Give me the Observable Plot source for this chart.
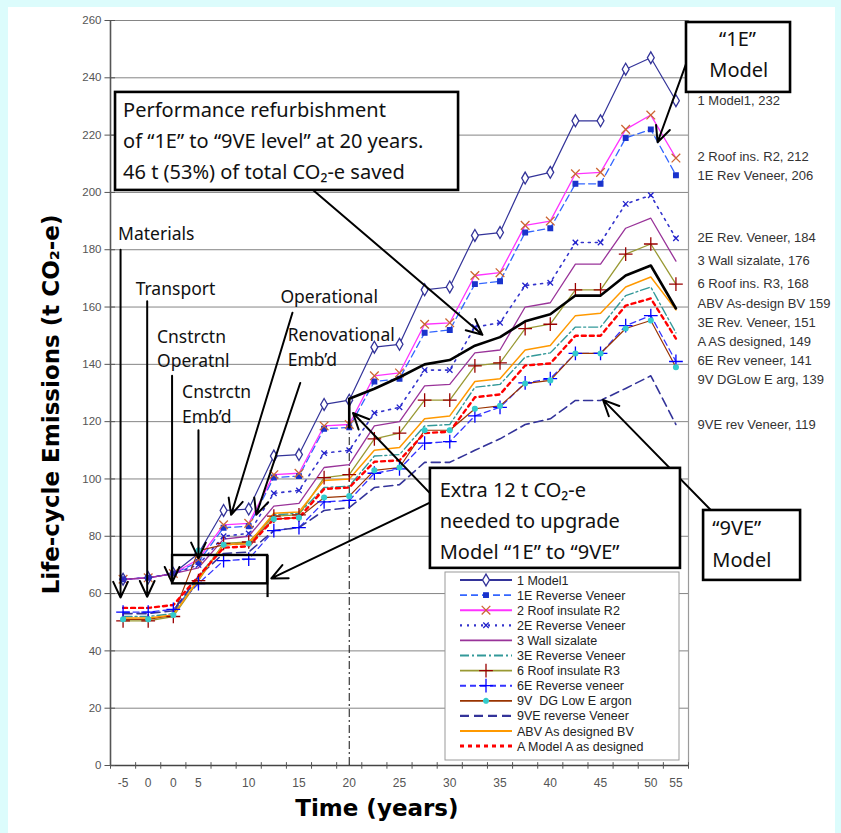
<!DOCTYPE html>
<html><head><meta charset="utf-8">
<script src="https://cdn.jsdelivr.net/npm/d3@7"></script>
<script src="https://cdn.jsdelivr.net/npm/@observablehq/plot@0.6"></script>
<style>
html,body{margin:0;padding:0;background:#dcfcfc;width:841px;height:833px;overflow:hidden;}
#panel{position:absolute;left:8px;top:7px;width:827px;height:826px;background:#fff;}
#chart{position:absolute;left:0;top:0;}
</style></head><body><div id="panel"></div><div id="chart"></div>
<script>
// ---- category axis (one category every 2.5 years after year 5) ----
const cats = ["-5","0","0","5","","10","","15","","20","","25","","30","","35","","40","","45","","50","55"];
const yTicks = [0,20,40,60,80,100,120,140,160,180,200,220,240,260];

// ---- series values (t CO2-e) ----
const model1 = [65,65.5,67,74,89,89.5,108,108.5,126,127.5,146,147,166,167,185,186,205,207,225,225,243,247,232];
const rev1E  = [65,65.5,67,71,83,83.5,100.5,101,117.5,118,134,135,151,152,168,169,186,187.5,203,203,219,222,206];
const roofR2 = [65,65.5,67,72,84,84.5,101.5,102,118.5,119,136,137,154,154.5,171,172,188.5,190,206.5,207,222,227,212];
const rev2E  = [65,65.5,67,70,80,81,95,96,109,110,123,125,138,138,153,154.5,167.5,168.5,182.5,182.5,196,199,184];
const wall3  = [65,65.5,67,69,79,80,90.5,91.5,104,105,118.5,120,132.5,133,144,145,160,161.5,175,175,187.5,191,176];
const rev3E  = [52,52,53,66,77,77.5,87.5,88,97,97.5,108,108.5,118.5,119,132,133,142.5,144,153,153,164,167,151];
const roofR3 = [50.5,50.5,52,64.5,77.5,78,87,87.5,100.5,101.5,114,116,127.5,127.5,139.5,140.5,152.5,154,166,166,178.5,182,168];
const rev6E  = [53.5,53.5,54.5,63.5,71.5,72,82,83,92,92.5,102,103.5,112.5,113,122,125,133.5,135,143.8,143.8,153.5,157,141];
const dg9V   = [51,51,52.5,75,77,77.5,86,86.5,93.5,94,103,104,117,117,124.5,125.5,133.3,134.4,143.8,143.8,152.5,155.3,139];
const rev9VE = [53,53,54,66,74,74.5,82,83,89,90,97,98,105.8,105.8,110,114,119,121,127.4,127.4,131.6,136,119];
const abvBV  = [51.5,51.5,52.5,65,77,77.5,88,88.5,99.5,100,110,111,121,122,134,135,145,146.6,157,157.8,167,170.5,159];
const modelA = [55,55,56,66,76,76.5,86,86.5,96.5,97,106,106.5,116,116.5,128.5,129.5,139.6,140.3,150,150,160.5,163,149];
// refurbished path "1E" -> "9VE" from year 20
const refurbIdx  = [9,9,10,11,12,13,14,15,16,17,18,19,20,21,22];
const refurbVals = [118,128,131.5,135.5,140,141.5,146.5,149.5,155,157.5,164,164,171,174.5,159.5];

const legendNames = ["1 Model1","1E Reverse Veneer","2 Roof insulate R2","2E Reverse Veneer","3 Wall sizalate","3E Reverse Veneer","6 Roof insulate R3","6E Reverse veneer","9V  DG Low E argon","9VE reverse Veneer","ABV As designed BV","A Model A as designed"];
const endLabels = ["1 Model1, 232","1E Rev Veneer, 206","2 Roof ins. R2, 212","2E Rev. Veneer, 184","3 Wall sizalate, 176","3E Rev. Veneer, 151","6 Roof ins. R3, 168","6E Rev veneer, 141","9V DGLow E arg, 139","9VE rev Veneer, 119","ABV As-design BV 159","A AS designed, 149"];

const styles = [
  {v:model1, stroke:"#333399", w:1.2, dash:null, sym:d3.symbolDiamond, r:3.6, fill:"white", mstroke:"#333399"},
  {v:rev1E,  stroke:"#3366ff", w:1.3, dash:"7,4", sym:d3.symbolSquare, r:2.6, fill:"#1a33cc", mstroke:"#1a33cc"},
  {v:roofR2, stroke:"#ff33ff", w:1.3, dash:null, sym:d3.symbolTimes, r:4, fill:"none", mstroke:"#cc6633"},
  {v:rev2E,  stroke:"#3333cc", w:1.6, dash:"2,5", sym:d3.symbolTimes, r:2.6, fill:"none", mstroke:"#2222cc"},
  {v:wall3,  stroke:"#993399", w:1.3, dash:null, sym:null},
  {v:rev3E,  stroke:"#339999", w:1.4, dash:"9,3,2,3", sym:null},
  {v:roofR3, stroke:"#999933", w:1.3, dash:null, sym:d3.symbolPlus, r:4.5, fill:"none", mstroke:"#990000"},
  {v:rev6E,  stroke:"#3333ff", w:1.3, dash:"6,4", sym:d3.symbolPlus, r:4.5, fill:"none", mstroke:"#0000ff"},
  {v:dg9V,   stroke:"#993300", w:1.2, dash:null, sym:d3.symbolCircle, r:2.4, fill:"#33cccc", mstroke:"#33cccc"},
  {v:rev9VE, stroke:"#333399", w:1.6, dash:"9,5", sym:null},
  {v:abvBV,  stroke:"#ff9900", w:1.5, dash:null, sym:null},
  {v:modelA, stroke:"#ff0000", w:2.4, dash:"4,4", sym:null}
];

// annotation text boxes, in data units (x = category index, y = t CO2-e)
const boxes = [
  {x1:-0.3, x2:13.35, y1:200.7, y2:234.9},
  {x1:22.42, x2:26.56, y1:234.9, y2:259.3},
  {x1:12.23, x2:22.18, y1:68.8, y2:103.7},
  {x1:23.1, x2:26.96, y1:64.6, y2:89}
];
const boxTextLeft = [
  {t:"Performance refurbishment", x:0.0, y:228.6},
  {t:"of \u201c1E\u201d to \u201c9VE level\u201d at 20 years.", x:0.0, y:217.8},
  {t:"46 t (53%) of total CO\u2082-e saved", x:0.0, y:207.0},
  {t:"Extra 12 t CO\u2082-e", x:12.6, y:96.0},
  {t:"needed to upgrade", x:12.6, y:85.0},
  {t:"Model \u201c1E\u201d to \u201c9VE\u201d", x:12.6, y:74.2},
  {t:"\u201c9VE\u201d", x:23.45, y:82.7},
  {t:"Model", x:23.45, y:71.5}
];
const boxTextMid = [
  {t:"\u201c1E\u201d", x:24.45, y:253.5},
  {t:"Model", x:24.5, y:242.4}
];
const stageText = [
  {t:"Materials", x:-0.2, y:185.3},
  {t:"Transport", x:0.5, y:166.0},
  {t:"Cnstrctn", x:1.35, y:149.3},
  {t:"Operatnl", x:1.35, y:141.0},
  {t:"Cnstrctn", x:2.35, y:130.2},
  {t:"Emb\u2019d", x:2.35, y:121.5},
  {t:"Operational", x:6.26, y:163.3},
  {t:"Renovational", x:6.55, y:150.0},
  {t:"Emb\u2019d", x:6.55, y:141.3}
];
const arrows = [
  {x1:-0.1, y1:180, x2:-0.1, y2:58.6},
  {x1:0.96, y1:162, x2:0.96, y2:58.9},
  {x1:1.95, y1:136, x2:1.95, y2:63.8},
  {x1:3.0, y1:117, x2:3.0, y2:72.3},
  {x1:6.74, y1:158, x2:4.3, y2:87.5},
  {x1:7.05, y1:133.5, x2:5.3, y2:87.5},
  {x1:7.58, y1:200.7, x2:14.3, y2:150.3},
  {x1:22.45, y1:246, x2:21.27, y2:217.5},
  {x1:12.23, y1:94.9, x2:9.15, y2:123.0},
  {x1:12.23, y1:91.8, x2:5.9, y2:65.3},
  {x1:23.45, y1:88.6, x2:19.1, y2:127.6}
];
const bracket = [{x1:1.97, x2:5.75, y1:63.4, y2:73.3}];

// ---- build ----
const pts = arr => arr.map((v,i)=>({i, v}));
const marks = [];
marks.push(Plot.ruleY(yTicks, {y:d=>d, x1:()=>-0.5, x2:()=>22.5, stroke:"#858585", strokeWidth:1}));
marks.push(Plot.ruleX([22.5], {x:d=>d, y1:()=>0, y2:()=>260, stroke:"#9a9a9a", strokeWidth:1.2}));
marks.push(Plot.ruleX([-0.5], {x:d=>d, y1:()=>0, y2:()=>260, stroke:"#555", strokeWidth:1.6}));
marks.push(Plot.ruleY([0], {y:d=>d, x1:()=>-0.5, x2:()=>22.5, stroke:"#444", strokeWidth:1.6}));
marks.push(Plot.ruleY(yTicks, {y:d=>d, x1:()=>-0.72, x2:()=>-0.3, stroke:"#555"}));
marks.push(Plot.ruleX(d3.range(24).map(i=>i-0.5), {x:d=>d, y1:()=>-1.3, y2:()=>1.0, stroke:"#555"}));
marks.push(Plot.text(yTicks, {x:()=>-0.5, y:d=>d, dx:-9, text:d=>String(d), textAnchor:"end", fill:"#555", fontSize:11.5}));
marks.push(Plot.text(cats, {x:(d,i)=>i, y:()=>0, dy:18, text:d=>d, fill:"#555", fontSize:12}));
marks.push(Plot.ruleX([9], {x:d=>d, y1:()=>0, y2:()=>116, stroke:"#111", strokeWidth:1, strokeDasharray:"8,3,2,3"}));

styles.forEach(s => {
  marks.push(Plot.line(pts(s.v), {x:"i", y:"v", stroke:s.stroke, strokeWidth:s.w, strokeDasharray:s.dash || undefined}));
});
styles.forEach(s => {
  if (s.sym) marks.push(Plot.dot(pts(s.v), {x:"i", y:"v", symbol:s.sym, r:s.r, fill:s.fill, stroke:s.mstroke, strokeWidth:1.3}));
});
marks.push(Plot.line(refurbIdx.map((x,k)=>({x, v:refurbVals[k]})), {x:"x", y:"v", stroke:"#000", strokeWidth:2.6}));

// end labels with simple dodge
const endVals = styles.map(s=>s.v[s.v.length-1]);
const order = d3.range(endVals.length).sort((a,b)=>endVals[b]-endVals[a]);
const pos = order.map(k=>endVals[k]);
for (let it=0; it<200; it++) {
  for (let j=1;j<pos.length;j++){ const gap = pos[j-1]-pos[j]; if (gap<6.6){ const d=(6.6-gap)/2; pos[j-1]+=d; pos[j]-=d; } }
}
const endData = order.map((k,j)=>({t:endLabels[k], y:pos[j]}));
marks.push(Plot.text(endData, {x:()=>22.5, y:"y", text:"t", dx:9, textAnchor:"start", fill:"#333", fontSize:13}));

// annotations
marks.push(Plot.ruleX(bracket, {x:"x2", y1:()=>58.6, y2:"y2", stroke:"#000", strokeWidth:2.2}));
marks.push(Plot.rect(bracket, {x1:"x1", x2:"x2", y1:"y1", y2:"y2", fill:"none", stroke:"#000", strokeWidth:2.4}));
marks.push(Plot.arrow(arrows, {x1:"x1", y1:"y1", x2:"x2", y2:"y2", stroke:"#000", strokeWidth:2, headLength:13, headAngle:50}));
marks.push(Plot.rect(boxes, {x1:"x1", x2:"x2", y1:"y1", y2:"y2", fill:"white", stroke:"#000", strokeWidth:2.6}));
marks.push(Plot.text(boxTextLeft, {x:"x", y:"y", text:"t", textAnchor:"start", fill:"#111", fontSize:20, fontFamily:"Noto Sans"}));
marks.push(Plot.text(boxTextMid, {x:"x", y:"y", text:"t", textAnchor:"middle", fill:"#111", fontSize:20, fontFamily:"Noto Sans"}));
marks.push(Plot.text(stageText, {x:"x", y:"y", text:"t", textAnchor:"start", fill:"#111", fontSize:17.5, fontFamily:"Noto Sans"}));
// axis titles
marks.push(Plot.text(["Life-cycle Emissions (t CO\u2082-e)"], {x:()=>-2.85, y:()=>126, text:d=>d, rotate:-90, fontWeight:"bold", fontSize:23, fill:"#000", fontFamily:"DejaVu Sans"}));
marks.push(Plot.text(["Time (years)"], {x:()=>10.1, y:()=>-15, text:d=>d, fontWeight:"bold", fontSize:23, fill:"#000", fontFamily:"DejaVu Sans"}));

const chart = Plot.plot({
  width:841, height:833,
  marginLeft:110, marginRight:153, marginTop:20, marginBottom:68,
  x:{type:"linear", domain:[-0.5,22.5], axis:null},
  y:{type:"linear", domain:[0,260], axis:null},
  style:{background:"transparent", fontFamily:"Liberation Sans, Arial, sans-serif", overflow:"visible"},
  marks
});
document.getElementById("chart").appendChild(chart);

// ---- legend ----
const svg = d3.select(chart);
const lg = svg.append("g").attr("text-anchor","start");
lg.append("rect").attr("x",445).attr("y",572).attr("width",234).attr("height",188).attr("fill","white").attr("stroke","#9a9a9a");
legendNames.forEach((name,k)=>{
  const s = styles[k];
  const yy = 580 + k*15.1;
  lg.append("line").attr("x1",460).attr("x2",512).attr("y1",yy).attr("y2",yy)
    .attr("stroke",s.stroke).attr("stroke-width",Math.max(1.5,s.w+0.6)).attr("stroke-dasharray",s.dash||null);
  if (s.sym) {
    lg.append("path").attr("transform",`translate(486,${yy})`)
      .attr("d",d3.symbol(s.sym, Math.PI*s.r*s.r)())
      .attr("fill",s.fill).attr("stroke",s.mstroke).attr("stroke-width",1.3);
  }
  lg.append("text").attr("x",517).attr("y",yy+4.5).attr("font-size",12.5).attr("fill","#222")
    .attr("text-anchor","start")
    .attr("font-family","Liberation Sans, Arial, sans-serif").text(name);
});
</script></body></html>
